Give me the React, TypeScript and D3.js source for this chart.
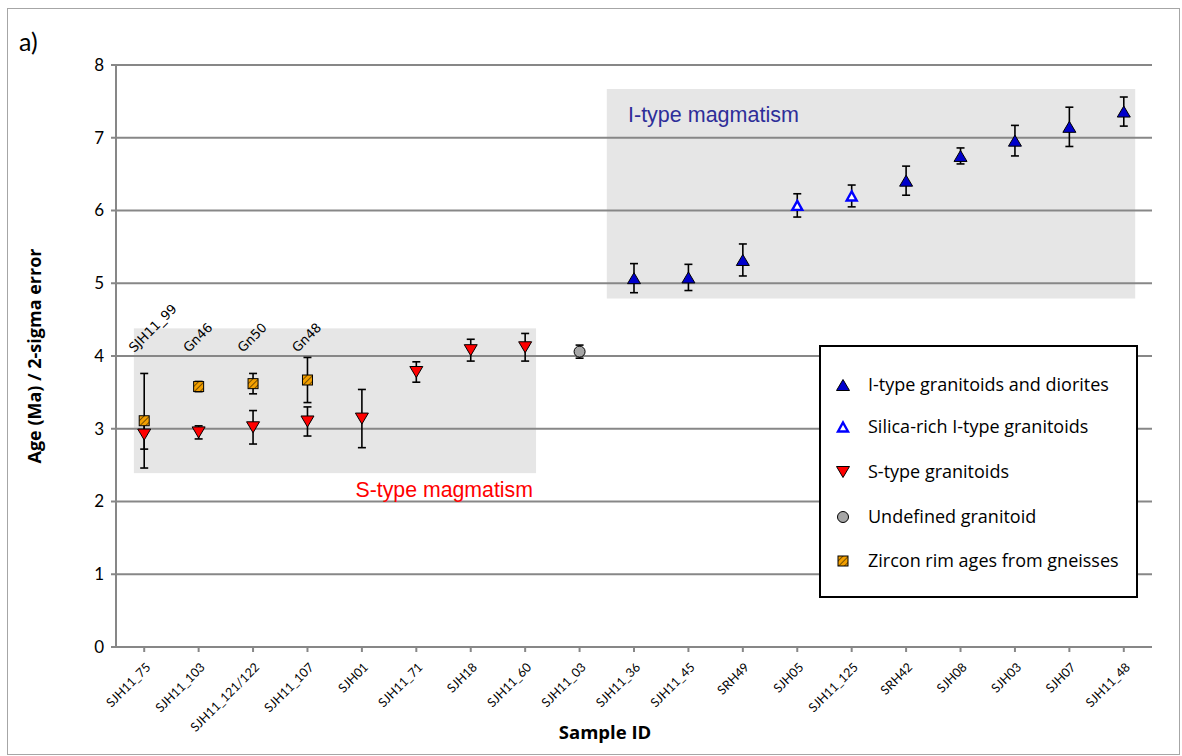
import React from "react";
import * as d3 from "d3";

// Sample order along the x axis
const sampleIds = [
  "SJH11_75", "SJH11_103", "SJH11_121/122", "SJH11_107", "SJH01", "SJH11_71",
  "SJH18", "SJH11_60", "SJH11_03", "SJH11_36", "SJH11_45", "SRH49", "SJH05",
  "SJH11_125", "SRH42", "SJH08", "SJH03", "SJH07", "SJH11_48",
];

// I-type granitoids and diorites
const iTypeSamples = ["SJH11_36", "SJH11_45", "SRH49", "SRH42", "SJH08", "SJH03", "SJH07", "SJH11_48"];
const iTypeAges = [5.07, 5.08, 5.32, 6.41, 6.75, 6.96, 7.15, 7.36];
const iTypeErrors = [0.2, 0.18, 0.22, 0.2, 0.11, 0.21, 0.27, 0.2];

// Silica-rich I-type granitoids
const silicaSamples = ["SJH05", "SJH11_125"];
const silicaAges = [6.07, 6.2];
const silicaErrors = [0.16, 0.15];

// S-type granitoids
const sTypeSamples = ["SJH11_75", "SJH11_103", "SJH11_121/122", "SJH11_107", "SJH01", "SJH11_71", "SJH18", "SJH11_60"];
const sTypeAges = [2.92, 2.95, 3.02, 3.1, 3.14, 3.78, 4.08, 4.12];
const sTypeErrors = [0.2, 0.09, 0.23, 0.2, 0.4, 0.14, 0.15, 0.19];

// Undefined granitoid
const undefinedSamples = ["SJH11_03"];
const undefinedAges = [4.06];
const undefinedErrors = [0.09];

// Zircon rim ages from gneisses (plotted in the column of the associated granitoid)
const gneissColumns = ["SJH11_75", "SJH11_103", "SJH11_121/122", "SJH11_107"];
const gneissLabels = ["SJH11_99", "Gn46", "Gn50", "Gn48"];
const gneissAges = [3.11, 3.58, 3.62, 3.67];
const gneissErrors = [0.65, 0.07, 0.14, 0.31];

const yTicks = [0, 1, 2, 3, 4, 5, 6, 7, 8];

const legendLabels = [
  "I-type granitoids and diorites",
  "Silica-rich I-type granitoids",
  "S-type granitoids",
  "Undefined granitoid",
  "Zircon rim ages from gneisses",
];

const W = 1182;
const H = 756;
const plotLeft = 116;
const plotRight = 1152;
const plotTop = 65;
const plotBottom = 647;

const x = d3.scaleBand<string>().domain(sampleIds).range([117, 1151]).padding(0);
const cx = (id: string) => (x(id) as number) + x.bandwidth() / 2;
const y = d3.scaleLinear().domain([0, 8]).range([plotBottom, plotTop]);

const GRID = "#878787";
const uiFont = "Lato, 'Open Sans', sans-serif";
const titleFont = "'Open Sans', Lato, sans-serif";

function triangle(w: number, h: number, up: boolean) {
  return up
    ? `M0,${-h / 2}L${w / 2},${h / 2}L${-w / 2},${h / 2}Z`
    : `M0,${h / 2}L${w / 2},${-h / 2}L${-w / 2},${-h / 2}Z`;
}

function ErrorBar({ px, age, err }: { px: number; age: number; err: number }) {
  const top = y(age + err);
  const bot = y(age - err);
  return (
    <g stroke="#000" strokeWidth={1.6} fill="none">
      <line x1={px} x2={px} y1={top} y2={bot} />
      <line x1={px - 4} x2={px + 4} y1={top} y2={top} />
      <line x1={px - 4} x2={px + 4} y1={bot} y2={bot} />
    </g>
  );
}

function Marker({ kind }: { kind: string }) {
  if (kind === "i") return <path d={triangle(13, 11, true)} fill="#0000cc" stroke="#000" strokeWidth={1} />;
  if (kind === "si") return <path d={triangle(10, 9, true)} fill="#fff" stroke="#0000ff" strokeWidth={2.4} />;
  if (kind === "s") return <path d={triangle(13, 11, false)} fill="#ff0000" stroke="#000" strokeWidth={1} />;
  if (kind === "u") return <circle r={5.5} fill="#a6a6a6" stroke="#000" strokeWidth={1} />;
  return <rect x={-5} y={-5} width={10} height={10} fill="url(#zirconHatch)" stroke="#000" strokeWidth={1} />;
}

export default function App() {
  const series = [
    { kind: "i", ids: iTypeSamples, ages: iTypeAges, errs: iTypeErrors },
    { kind: "si", ids: silicaSamples, ages: silicaAges, errs: silicaErrors },
    { kind: "s", ids: sTypeSamples, ages: sTypeAges, errs: sTypeErrors },
    { kind: "u", ids: undefinedSamples, ages: undefinedAges, errs: undefinedErrors },
    { kind: "z", ids: gneissColumns, ages: gneissAges, errs: gneissErrors },
  ];
  const band = x.bandwidth();
  const legendKinds = ["i", "si", "s", "u", "z"];
  const legendRows = [385, 427, 472, 517, 561];

  return (
    <svg width={W} height={H} style={{ position: "absolute", left: 0, top: 0 }} xmlns="http://www.w3.org/2000/svg">
      <defs>
        <pattern id="zirconHatch" patternUnits="userSpaceOnUse" width={4} height={4} patternTransform="rotate(45)">
          <rect width={4} height={4} fill="#f4a000" />
          <line x1={0} y1={0} x2={0} y2={4} stroke="#5a3a00" strokeWidth={1.6} />
        </pattern>
      </defs>
      <rect x={0} y={0} width={W} height={H} fill="#fff" />
      <rect x={7.5} y={8.5} width={1172} height={746} fill="#fff" stroke="#a6a6a6" strokeWidth={1} />

      <text x={19} y={51} fontFamily={uiFont} fontSize={25} fill="#000">a)</text>

      {/* shaded magmatism fields */}
      <rect x={cx(sampleIds[0]) - 0.19 * band} y={y(4.38)} width={cx("SJH11_60") - cx(sampleIds[0]) + 0.39 * band} height={y(2.39) - y(4.38)} fill="#e6e6e6" />
      <rect x={cx("SJH11_03") + 0.5 * band} y={y(7.67)} width={cx("SJH11_48") - cx("SJH11_03") - 0.29 * band} height={y(4.79) - y(7.67)} fill="#e6e6e6" />

      {/* gridlines */}
      {yTicks.map((t) => (
        <line key={t} x1={plotLeft} x2={plotRight} y1={y(t)} y2={y(t)} stroke={GRID} strokeWidth={2} />
      ))}
      {/* y axis */}
      <line x1={plotLeft} x2={plotLeft} y1={y(8) - 1} y2={y(0) + 1} stroke={GRID} strokeWidth={2} />
      {yTicks.map((t) => (
        <g key={t}>
          <line x1={plotLeft - 5} x2={plotLeft} y1={y(t)} y2={y(t)} stroke={GRID} strokeWidth={2} />
          <text x={104} y={y(t)} dy="0.35em" textAnchor="end" fontFamily={uiFont} fontSize={17} fill="#000">{t}</text>
        </g>
      ))}
      {/* x axis ticks and labels */}
      {sampleIds.map((id) => (
        <g key={id}>
          <line x1={cx(id)} x2={cx(id)} y1={plotBottom} y2={plotBottom + 5} stroke={GRID} strokeWidth={2} />
          <text transform={`translate(${cx(id) + 4},${plotBottom + 18}) rotate(-45)`} dy="0.35em" textAnchor="end" fontFamily={uiFont} fontSize={12.5} fill="#000">{id}</text>
        </g>
      ))}

      <text transform={`translate(41,${(y(0) + y(8)) / 2}) rotate(-90)`} textAnchor="middle" fontFamily={titleFont} fontWeight="bold" fontSize={18} fill="#000">Age (Ma) / 2-sigma error</text>
      <text x={605} y={739} textAnchor="middle" fontFamily={titleFont} fontWeight="bold" fontSize={18.5} fill="#000">Sample ID</text>

      <text x={533} y={497} textAnchor="end" fontFamily="'Liberation Sans', Arial, sans-serif" fontSize={21.3} fill="#ff0000">S-type magmatism</text>
      <text x={628} y={122} fontFamily="'Liberation Sans', Arial, sans-serif" fontSize={21.5} fill="#2e2e99">I-type magmatism</text>

      {/* gneiss sample labels */}
      {gneissColumns.map((id, i) => (
        <text key={id} transform={`translate(${cx(id) - 10},${y(4) - 3}) rotate(-45)`} fontFamily="'DejaVu Sans', sans-serif" fontSize={13} fill="#000">{gneissLabels[i]}</text>
      ))}

      {/* error bars */}
      {series.map((s) =>
        s.ids.map((id, i) => <ErrorBar key={s.kind + id} px={cx(id)} age={s.ages[i]} err={s.errs[i]} />)
      )}
      {/* markers */}
      {series.map((s) =>
        s.ids.map((id, i) => (
          <g key={s.kind + id} transform={`translate(${cx(id)},${y(s.ages[i])})`}>
            <Marker kind={s.kind} />
          </g>
        ))
      )}

      {/* legend */}
      <rect x={820} y={346} width={317} height={251} fill="#fff" stroke="#000" strokeWidth={2} />
      {legendLabels.map((label, i) => (
        <g key={label}>
          <g transform={`translate(843,${legendRows[i]})`}>
            <Marker kind={legendKinds[i]} />
          </g>
          <text x={868} y={legendRows[i]} dy="0.35em" fontFamily="'Open Sans', sans-serif" fontSize={18} fill="#000">{label}</text>
        </g>
      ))}
    </svg>
  );
}
